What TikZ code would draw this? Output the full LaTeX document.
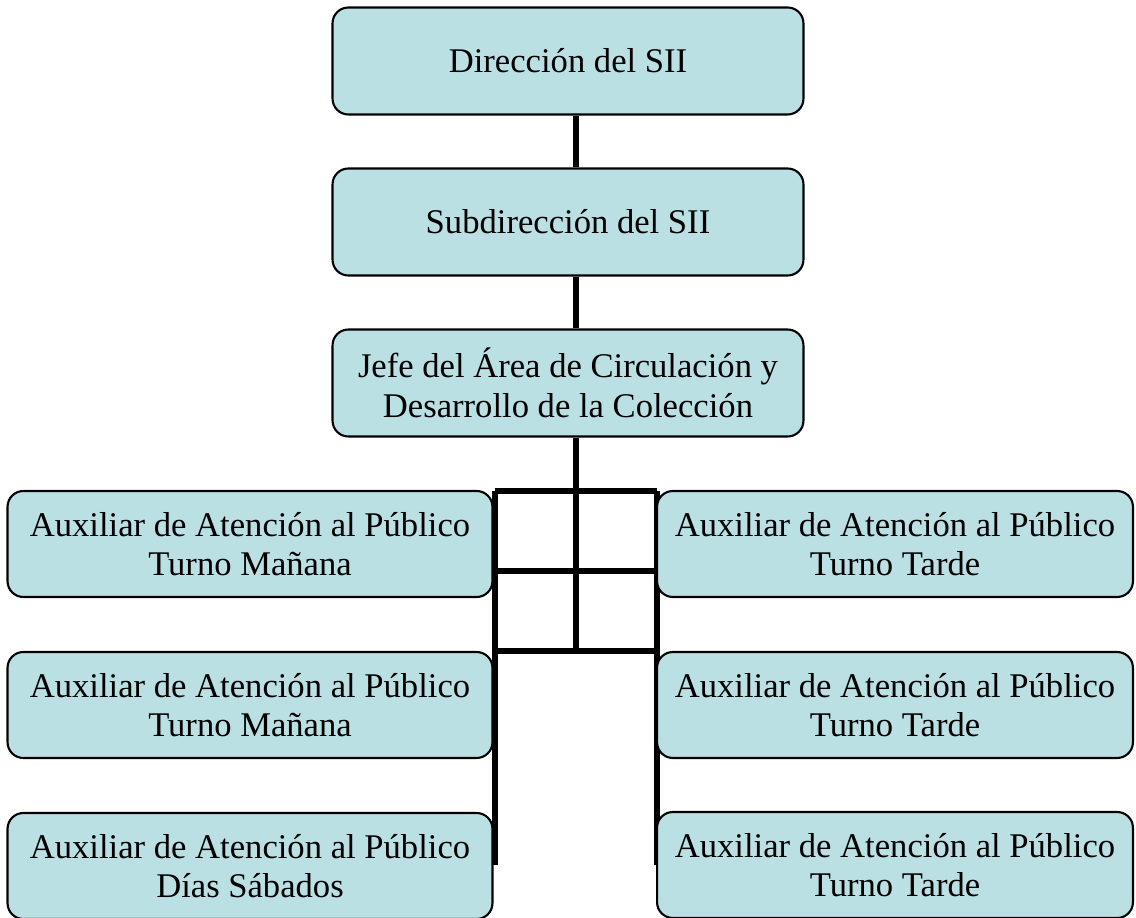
\documentclass[tikz,border=0pt]{standalone}
\usepackage{fontspec}
\setmainfont{Liberation Serif}
\usetikzlibrary{positioning,backgrounds}
\definecolor{boxfill}{RGB}{187,224,227}

\tikzset{
  unit/.style={draw=black, line width=1.2pt, fill=boxfill, rounded corners=9pt,
               align=center, inner sep=0pt,
               font=\fontsize{19.7}{22.5}\selectfont},
  wide/.style={unit, minimum width=9.42cm, minimum height=2.14cm},
  side/.style={unit, minimum width=9.7cm, minimum height=2.12cm},
  sideR/.style={unit, minimum width=9.52cm, minimum height=2.12cm},
  link/.style={line width=3pt}
}

\begin{document}
\begin{tikzpicture}[x=0.02cm,y=-0.02cm]
    \useasboundingbox (0,0) rectangle (1136,918);

    % top chain
    \node[wide] (dir) at (568,61) {Dirección del SII};
    \node[wide] (subdir) at (568,222) {Subdirección del SII};
    \node[wide] (jefe) at (568,383) {Jefe del Área de Circulación y\\Desarrollo de la Colección};

    % left column
    \node[side] (manA) at (250,544) {Auxiliar de Atención al Público\\Turno Mañana};
    \node[side] (manB) at (250,705) {Auxiliar de Atención al Público\\Turno Mañana};
    \node[side] (sab) at (250,866) {Auxiliar de Atención al Público\\Días Sábados};

    % right column
    \node[sideR] (tarA) at (895,544) {Auxiliar de Atención al Público\\Turno Tarde};
    \node[sideR] (tarB) at (895,705) {Auxiliar de Atención al Público\\Turno Tarde};
    \node[sideR] (tarC) at (895,865) {Auxiliar de Atención al Público\\Turno Tarde};

    % rails of the lower grid
    \coordinate (spine) at (576,0);
    \coordinate (lrail) at (495,491);
    \coordinate (rrail) at (657,491);
    \coordinate (lend) at (495,865);
    \coordinate (rend) at (657,865);
    \coordinate (gridbot) at (576,651);

    % connectors, behind the boxes
    \begin{pgfonlayer}{background}
    \draw[link] (dir.south -| spine) -- (subdir.north -| spine);
    \draw[link] (subdir.south -| spine) -- (jefe.north -| spine);
    \draw[link] (jefe.south -| spine) -- (gridbot);
    \draw[link] (lrail) -- (rrail);
    \draw[link] (lrail |- 0,571) -- (rrail |- 0,571);
    \draw[link] (lrail |- gridbot) -- (rrail |- gridbot);
    \draw[link] (lrail) -- (lend);
    \draw[link] (rrail) -- (rend);
    \end{pgfonlayer}
\end{tikzpicture}
\end{document}
